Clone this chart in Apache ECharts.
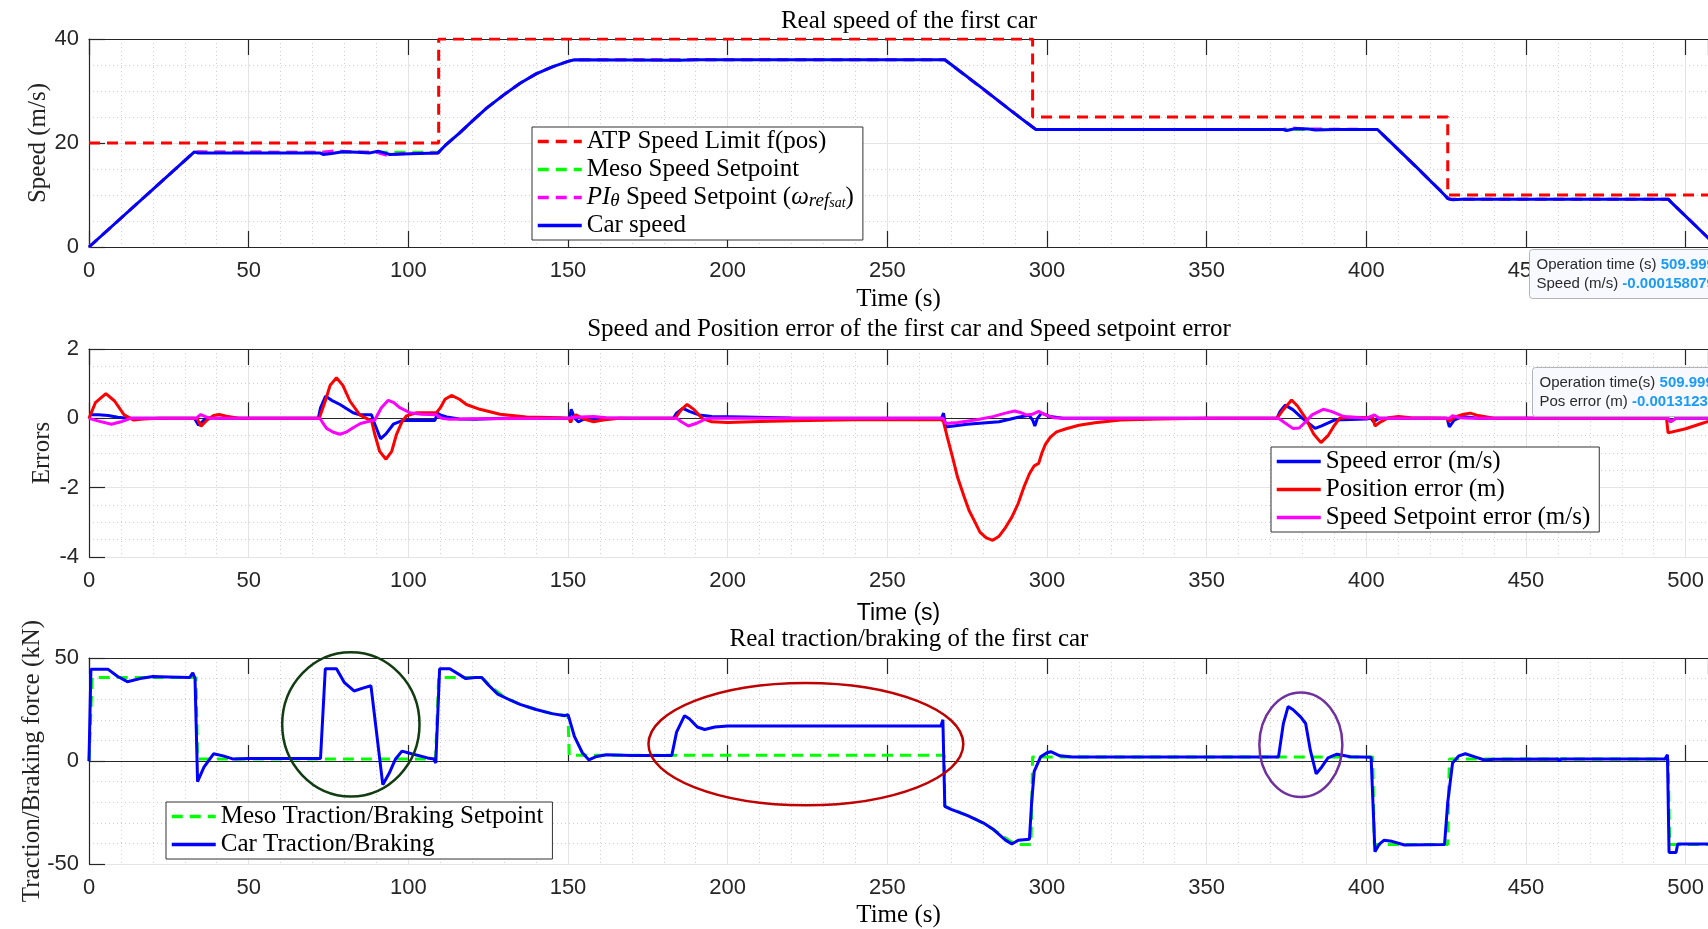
<!DOCTYPE html>
<html>
<head>
<meta charset="utf-8">
<script src="https://cdn.jsdelivr.net/npm/echarts@6/dist/echarts.min.js"></script>
<style>
  html, body { margin: 0; padding: 0; background: #fff; }
  #main { width: 1708px; height: 929px; }
</style>
</head>
<body>
<div id="main"></div>
<script>
// ---- data: [time (s), value] ----
const atpSpeedLimit = [[0, 20], [109.5, 20], [109.5, 40], [295.5, 40], [295.5, 25], [425.5, 25], [425.5, 10], [510, 10]]
const carSpeed = [[0, 0], [33, 18.3], [34, 18.1], [50, 18.1], [72.3, 18.1], [73.3, 17.8], [76, 18], [79.5, 18.3], [84, 18.2],
  [88, 18.1], [90.5, 18.4], [92, 18.2], [94.2, 17.8], [98, 17.9], [103.6, 18], [109.3, 18.1], [112, 19.8], [116, 21.9],
  [120, 24.2], [124.5, 26.7], [130, 29.3], [135, 31.5], [140, 33.3], [145.3, 34.7], [150, 35.7], [152, 36], [185, 35.9],
  [190, 36], [268, 36], [270, 35.1], [280, 30.4], [290, 25.6], [296.5, 22.6], [374, 22.6], [375, 22.4], [378, 22.8],
  [382, 22.7], [384, 22.5], [390, 22.6], [403.5, 22.6], [405, 21.7], [415, 15.8], [424.5, 10], [425.5, 9.3], [427, 9.1],
  [430, 9.2], [494.5, 9.2], [496, 8.3], [510, 0]]
const mesoSpeedSetpoint = [[0, 0], [33, 18.3], [72, 18.2], [80, 18.3], [90, 18.2], [109.3, 18.2], [112, 19.8], [116, 21.9],
  [120, 24.2], [124.5, 26.7], [130, 29.3], [135, 31.5], [140, 33.3], [145.3, 34.7], [150, 35.7], [152, 36], [268, 36],
  [296.5, 22.6], [403.5, 22.6], [426, 9.2], [494.5, 9.2], [510, 0]]
const piSpeedSetpoint = [[0, 0], [33, 18.3], [72.5, 18.2], [77, 18.5], [82, 18.3], [90, 18.2], [93.6, 17.6], [97, 17.9],
  [109.3, 18.1], [112, 19.8], [116, 21.9], [120, 24.2], [124.5, 26.7], [130, 29.3], [135, 31.5], [140, 33.3], [145.3, 34.7],
  [150, 35.7], [152, 36], [268, 36], [296.5, 22.6], [374, 22.6], [377, 22.9], [380, 22.7], [403.5, 22.6], [426, 9.2],
  [494.5, 9.2], [510, 0]]

const speedError = [[0, 0.1], [3, 0.1], [6, 0.08], [9, 0.03], [12, 0], [33, 0], [33.5, 0.05], [34.3, -0.2], [36, -0.05],
  [38, 0.02], [40, 0], [71.8, 0], [72.5, 0.3], [74.1, 0.64], [76, 0.52], [78.6, 0.4], [82.7, 0.16], [84.8, 0.1], [88.5, 0.1],
  [89.2, -0.1], [91.3, -0.59], [93, -0.45], [95.3, -0.17], [98.3, -0.06], [108.3, -0.06], [108.7, -0.1], [109.2, 0.15],
  [110, 0.1], [112, 0.04], [116, -0.02], [121, -0.03], [130, 0], [150.5, 0], [151, 0.26], [152, 0.02], [153.2, -0.1],
  [155, -0.02], [158, -0.05], [162, 0], [183, 0], [184, 0.15], [186, 0.29], [188, 0.2], [191, 0.1], [195, 0.05], [205, 0.04],
  [220, 0.01], [267, 0], [267.6, 0.15], [268.3, -0.25], [275, -0.17], [285, -0.1], [291, 0.03], [294.4, 0.09], [295.5, -0.05],
  [296.2, -0.22], [297, 0], [298.3, 0.15], [301, 0.05], [305, 0], [372, 0], [373, 0.2], [374.6, 0.38], [377, 0.25], [380, 0],
  [384, -0.29], [386, -0.22], [390, -0.05], [400, -0.02], [401.5, 0], [402.3, -0.1], [404, 0], [425.3, 0], [426, -0.25],
  [427.5, -0.05], [430, 0.05], [435, 0], [494.5, 0], [495.2, -0.1], [497, 0], [510, 0]]
const positionError = [[0, 0], [2, 0.45], [5.3, 0.71], [8, 0.5], [11, 0.1], [14, -0.05], [17, -0.02], [22, 0], [33.8, 0],
  [35.1, -0.23], [37, -0.05], [39, 0.08], [40.8, 0.11], [43, 0.06], [47, 0], [72.1, 0], [74, 0.5], [75.5, 0.95], [77.5, 1.17],
  [79.5, 0.95], [81.7, 0.5], [84.8, 0.1], [88.5, -0.08], [89.5, -0.46], [91, -0.95], [93, -1.18], [94.8, -0.95], [96.3, -0.46],
  [98, -0.1], [99.4, 0.07], [102.6, 0.16], [108.8, 0.16], [110, 0.3], [111.5, 0.55], [113.5, 0.66], [116, 0.55], [118.2, 0.4],
  [122.4, 0.26], [128.7, 0.12], [137, 0.04], [147.5, 0.02], [150.3, 0], [150.8, -0.12], [151.5, 0.02], [152.5, 0.1],
  [155, -0.02], [158, -0.1], [161, -0.05], [166, 0], [183.5, 0], [185.5, 0.25], [187.3, 0.4], [189.5, 0.25], [192, 0],
  [195, -0.1], [200, -0.12], [210, -0.09], [225, -0.06], [240, -0.04], [267, -0.04], [267.6, -0.1], [268.8, -0.55],
  [270.5, -1.15], [272, -1.7], [274, -2.25], [275.6, -2.66], [277.5, -3.0], [279, -3.28], [281, -3.45], [283, -3.52],
  [285, -3.4], [287, -3.15], [289, -2.85], [291, -2.45], [292.7, -2.0], [294.5, -1.6], [296, -1.37], [297.4, -1.3],
  [298.4, -1.0], [299.5, -0.75], [301, -0.55], [303, -0.39], [306, -0.3], [310, -0.2], [315, -0.13], [323, -0.05],
  [335, -0.02], [350, 0], [372, 0], [374, 0.25], [376.6, 0.53], [378.5, 0.35], [381, 0], [383.5, -0.45], [385.8, -0.7],
  [388, -0.5], [390, -0.2], [391.6, 0], [395, 0.03], [402, 0.02], [402.7, -0.22], [404.5, -0.1], [407, 0.02], [410, 0.05],
  [414, 0.02], [425, 0], [426, -0.08], [428, 0.05], [430.5, 0.12], [432.6, 0.15], [435, 0.08], [440, 0], [494, 0],
  [494.5, -0.42], [500, -0.3], [505, -0.15], [510, 0]]
const setpointError = [[0, 0], [3, -0.08], [7, -0.17], [10, -0.1], [13, 0], [33.5, 0], [35, 0.11], [37, 0.03], [38, 0],
  [72.3, 0], [73, -0.1], [74.4, -0.29], [76.5, -0.4], [78.6, -0.46], [80.5, -0.4], [82.7, -0.27], [85, -0.15], [88, -0.08],
  [89.5, -0.05], [91.5, 0.3], [93.7, 0.52], [95.5, 0.45], [97.3, 0.31], [100.5, 0.16], [104, 0.12], [108.8, 0.1], [110.4, 0],
  [113, -0.03], [120, -0.01], [150, 0], [152, 0.03], [158, 0.05], [162, 0.02], [170, 0], [184, 0], [185.5, -0.1],
  [187.7, -0.22], [190, -0.15], [193, -0.02], [195, 0], [267.5, 0], [268.3, -0.15], [272, -0.12], [278, -0.04], [283, 0.05],
  [287, 0.15], [289.8, 0.21], [292, 0.16], [293.5, 0.1], [295.5, 0.12], [297.4, 0.2], [299, 0.12], [302, 0.02], [305, 0],
  [372.5, 0], [374, -0.1], [377, -0.29], [379, -0.28], [381, -0.1], [383, 0.1], [386.5, 0.26], [389, 0.2], [393, 0.05],
  [400, 0], [402.5, 0.1], [404, 0], [426, 0], [427, 0.08], [429, 0.02], [432, 0], [494.5, 0], [495.3, -0.1], [497, 0], [510, 0]]

const mesoForce = [[0, 0], [1, 40.5], [33.5, 40.5], [34, 1], [108.5, 1], [109.5, 40.5], [123, 40.5], [126, 36], [130, 31],
  [135, 27.5], [140, 25], [145, 23], [150, 22], [150.4, 2.8], [267.8, 2.8], [268, -22], [272, -24.5], [278, -28.5], [283, -33],
  [288, -38.5], [290.5, -40.5], [295, -40.5], [295.5, 2], [402, 2], [402.5, -40.5], [425.5, -40.5], [426, 1], [494.5, 1],
  [495, -40.5], [510, -40.5]]
const carForce = [[0, 0], [0.6, 44.5], [6, 44.5], [9, 41], [12, 38.5], [16, 40], [20, 41], [25, 40.8], [31.5, 40.5],
  [32.5, 42.8], [33.2, 40], [34, -10], [36, -3], [39, 3.5], [42, 2.5], [45, 1], [50, 1.2], [72.5, 1.2], [74, 44.8],
  [77.5, 44.8], [80, 38], [83, 34], [86, 35.5], [88.3, 36.5], [92, -11.5], [94, -6], [96, 1], [98, 4.8], [101, 3.5],
  [106, 1.5], [108, 1], [108.6, -1], [109.8, 44.8], [113, 44.8], [118, 40], [121, 40.5], [123, 40.5], [125, 37],
  [128, 32.5], [132, 29.5], [135, 27.5], [140, 25], [145, 23], [149, 22], [150, 22.5], [150.5, 20], [152, 12], [154.5, 4],
  [156.5, 0.6], [159, 2.2], [162, 3], [170, 2.7], [182.5, 2.7], [184, 14], [186.5, 22], [188, 20.5], [190.5, 16.5],
  [192.8, 15.3], [196, 16.5], [200, 17], [266.8, 17], [267.4, 20], [268, -22], [270, -23.5], [275, -26.4], [280, -30],
  [283, -33], [287, -38.4], [289, -40.3], [291, -38.5], [294.5, -38], [295.2, -20], [296, -5], [298, 2], [300, 4],
  [301.2, 4.5], [304, 2.5], [308, 2], [372.5, 2], [374, 18], [375.5, 26.4], [377, 25], [379.5, 21.3], [381, 18.2],
  [382.5, 5], [384.3, -6.2], [386, -3], [388, 1.5], [390.8, 3.3], [395, 2.1], [401.5, 1.8], [402.7, -44], [404, -40.5],
  [405.5, -38.5], [408, -39], [412, -40.8], [424.5, -40.5], [425.5, -20], [427, -1], [429, 2.5], [431, 3.5], [434, 2],
  [437, 0.5], [440, 0.8], [460, 1], [460.5, 0], [461, 1], [493.5, 1], [494.3, 3], [494.8, -44.4], [497, -44.4],
  [497.5, -40.3], [510, -40.3]]

// highlight ellipses on the force plot: centre (s, kN) and half-axes (s, kN)
const ellipseT = [82, 224.5, 379.5]
const ellipseF = [17.8, 8.2, 7.9]
const ellipseHalfT = [21.5, 49.3, 13]
const ellipseHalfF = [35, 29.7, 25.4]
const ellipseColors = ['#123c12', '#c00000', '#7030a0']

// the figure is cropped at ~507 s on its right edge
const T_MAX = 507

const SERIF = 'Liberation Serif'
const SANS = 'Liberation Sans'
const AXIS_COLOR = '#262626'

function bottomX(i, nameFamily, nameGap) {
  return {
    type: 'value', gridIndex: i, min: 0, max: T_MAX, interval: 50,
    name: 'Time (s)', nameLocation: 'middle', nameGap: nameGap,
    nameTextStyle: { fontFamily: nameFamily, fontSize: nameFamily === SANS ? 23 : 25, color: '#000' },
    axisLine: { lineStyle: { color: AXIS_COLOR, width: 1.2 } },
    axisTick: { inside: true, length: 16, lineStyle: { color: AXIS_COLOR, width: 1.2 } },
    axisLabel: { fontFamily: SANS, fontSize: 22, color: AXIS_COLOR, margin: 13, showMaxLabel: false },
    splitLine: { show: true, lineStyle: { color: '#e4e4e4', width: 1 } },
    minorTick: { show: false, splitNumber: 5 },
    minorSplitLine: { show: true, lineStyle: { color: '#cfcfcf', width: 1, type: [1, 3] } }
  }
}

function topX(i) {
  return {
    type: 'value', gridIndex: i, min: 0, max: T_MAX, interval: 50, position: 'top',
    axisLine: { lineStyle: { color: AXIS_COLOR, width: 1.2 } },
    axisTick: { inside: true, length: 16, lineStyle: { color: AXIS_COLOR, width: 1.2 } },
    axisLabel: { show: false },
    splitLine: { show: false }
  }
}

function leftY(i, min, max, interval, minorSplit, name, nameGap) {
  return {
    type: 'value', gridIndex: i, min: min, max: max, interval: interval,
    name: name, nameLocation: 'middle', nameGap: nameGap, nameMoveOverlap: false,
    nameTextStyle: { fontFamily: SERIF, fontSize: 25, color: '#222' },
    axisLine: { show: true, lineStyle: { color: AXIS_COLOR, width: 1.2 } },
    axisTick: { show: true, inside: true, length: 16, lineStyle: { color: AXIS_COLOR, width: 1.2 } },
    axisLabel: { fontFamily: SANS, fontSize: 22, color: AXIS_COLOR, margin: 10 },
    splitLine: { show: true, lineStyle: { color: '#e4e4e4', width: 1 } },
    minorTick: { show: false, splitNumber: minorSplit },
    minorSplitLine: { show: true, lineStyle: { color: '#cfcfcf', width: 1, type: [1, 3] } }
  }
}

function line(name, data, idx, color, dashed, z) {
  return {
    name: name, type: 'line', xAxisIndex: idx, yAxisIndex: idx, data: data,
    symbol: 'none', smooth: false, z: z || 2,
    lineStyle: { color: color, width: 3, type: dashed ? [11, 7] : 'solid' },
    itemStyle: { color: color }
  }
}

const legendBase = {
  orient: 'vertical', backgroundColor: '#fff', borderColor: '#333', borderWidth: 1,
  itemWidth: 44, itemHeight: 14, itemGap: 3, padding: [2, 9, 2, 4], selectedMode: false,
  itemStyle: { opacity: 0 },
  lineStyle: { width: 3.5 },
  textStyle: {
    fontFamily: SERIF, fontSize: 25, color: '#000',
    rich: {
      it: { fontFamily: SERIF, fontStyle: 'italic', fontSize: 25, color: '#000' },
      sub: { fontFamily: SERIF, fontStyle: 'italic', fontSize: 19, color: '#000', lineHeight: 14, verticalAlign: 'bottom' },
      sub2: { fontFamily: SERIF, fontStyle: 'italic', fontSize: 14, color: '#000', lineHeight: 6, verticalAlign: 'bottom' }
    }
  }
}

function dataTip(left, top, text) {
  return {
    type: 'group', left: left, top: top, z: 100,
    children: [
      { type: 'rect', z: 100, shape: { x: 0, y: 0, width: 200, height: 49, r: 3 }, style: { fill: '#f8f9ff', stroke: '#b4b4b4', lineWidth: 1 } },
      {
        type: 'text', z: 101, x: 7, y: 6,
        style: {
          text: text, fontFamily: SANS, fontSize: 15,
          rich: {
            l: { fill: '#2a2a2a', fontFamily: SANS, fontSize: 15, lineHeight: 19 },
            v: { fill: '#1a9bf5', fontFamily: SANS, fontSize: 15, fontWeight: 'bold', lineHeight: 19 }
          }
        }
      }
    ]
  }
}

const chart = echarts.init(document.getElementById('main'))

chart.setOption({
  animation: false,
  backgroundColor: '#fff',
  title: [
    { text: 'Real speed of the first car', left: 904, top: 4, textAlign: 'center' },
    { text: 'Speed and Position error of the first car and Speed setpoint error', left: 904, top: 312, textAlign: 'center' },
    { text: 'Real traction/braking of the first car', left: 904, top: 622, textAlign: 'center' }
  ].map(t => Object.assign(t, { textStyle: { fontFamily: SERIF, fontSize: 25, fontWeight: 'normal', color: '#000' } })),
  grid: [
    { left: 89, top: 39, right: 0, height: 208 },
    { left: 89, top: 349, right: 0, height: 208 },
    { left: 89, top: 658, right: 0, height: 208 }
  ],
  xAxis: [
    bottomX(0, SERIF, 40), bottomX(1, SANS, 45), bottomX(2, SERIF, 39),
    topX(0), topX(1), topX(2)
  ],
  yAxis: [
    leftY(0, 0, 40, 20, 4, 'Speed (m/s)', 38),
    leftY(1, -4, 2, 2, 4, 'Errors', 34),
    leftY(2, -50, 50, 50, 5, 'Traction/Braking force (kN)', 44)
  ],
  legend: [
    Object.assign({}, legendBase, {
      left: 532, top: 127,
      data: ['ATP Speed Limit f(pos)', 'Meso Speed Setpoint', 'PI Speed Setpoint', 'Car speed'],
      formatter: function (name) {
        if (name === 'PI Speed Setpoint') return '{it|PI}{sub|θ} Speed Setpoint ({it|ω}{sub|ref}{sub2|sat})'
        return name
      }
    }),
    Object.assign({}, legendBase, {
      left: 1271, top: 447,
      data: ['Speed error (m/s)', 'Position error (m)', 'Speed Setpoint error (m/s)']
    }),
    Object.assign({}, legendBase, {
      left: 166, top: 802,
      data: ['Meso Traction/Braking Setpoint', 'Car Traction/Braking']
    })
  ],
  series: [
    line('ATP Speed Limit f(pos)', atpSpeedLimit, 0, '#ff0000', true),
    line('Meso Speed Setpoint', mesoSpeedSetpoint, 0, '#00ff00', true),
    line('PI Speed Setpoint', piSpeedSetpoint, 0, '#ff00ff', true),
    line('Car speed', carSpeed, 0, '#0000ff', false, 3),
    line('Speed error (m/s)', speedError, 1, '#0000ff', false),
    line('Position error (m)', positionError, 1, '#ff0000', false),
    line('Speed Setpoint error (m/s)', setpointError, 1, '#ff00ff', false),
    line('Meso Traction/Braking Setpoint', mesoForce, 2, '#00ff00', true),
    line('Car Traction/Braking', carForce, 2, '#0000ff', false, 3),
    {
      type: 'custom', xAxisIndex: 2, yAxisIndex: 2, silent: true, z: 5,
      data: ellipseT.map((t, k) => [t, ellipseF[k], ellipseHalfT[k], ellipseHalfF[k]]),
      renderItem: function (params, api) {
        const c = api.coord([api.value(0), api.value(1)])
        const s = api.size([api.value(2), api.value(3)])
        return {
          type: 'ellipse',
          shape: { cx: c[0], cy: c[1], rx: s[0], ry: s[1] },
          style: { fill: 'none', stroke: ellipseColors[params.dataIndex], lineWidth: 2.5 }
        }
      }
    }
  ],
  graphic: [
    dataTip(1529, 249, '{l|Operation time (s)} {v|509.999}\n{l|Speed (m/s)} {v|-0.000158079}'),
    dataTip(1532, 367, '{l|Operation time(s)} {v|509.999}\n{l|Pos error (m)} {v|-0.00131232}')
  ]
})
</script>
</body>
</html>
